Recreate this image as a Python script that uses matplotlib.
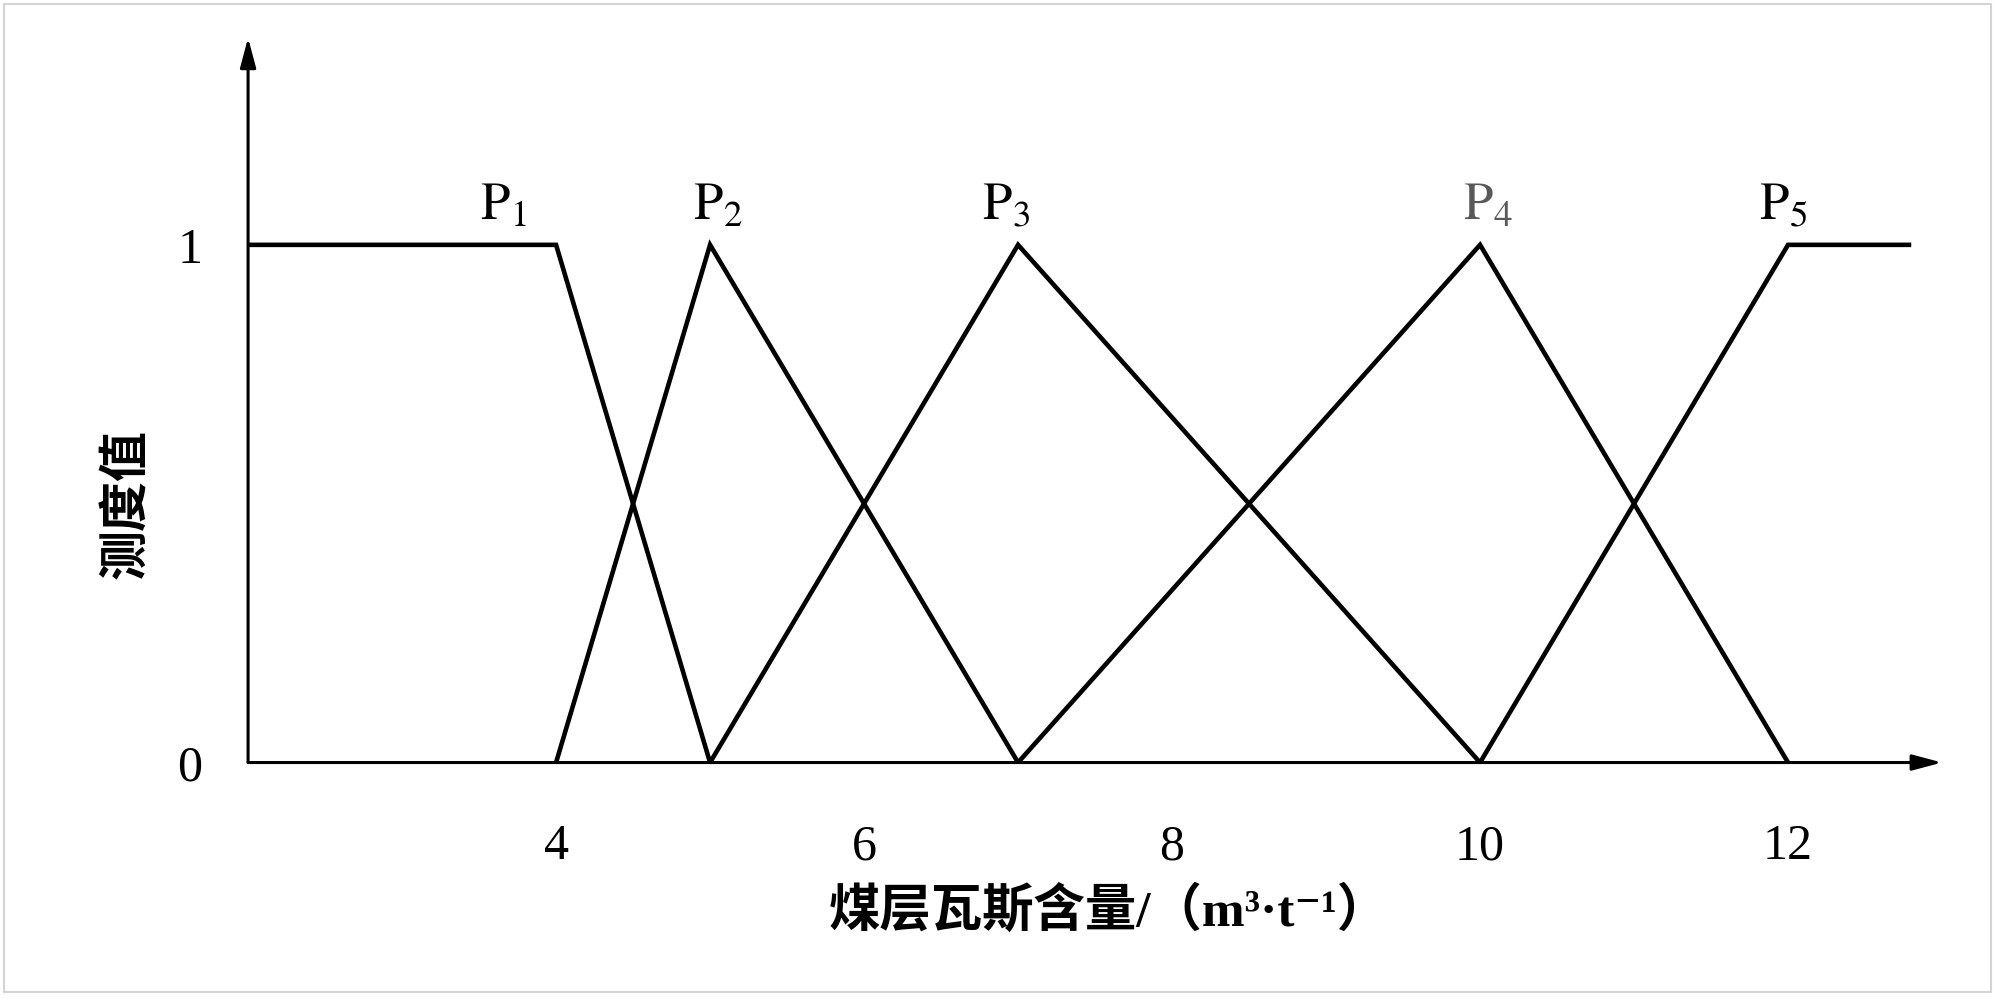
import matplotlib
matplotlib.use("Agg")
import matplotlib.pyplot as plt
from matplotlib.patches import Rectangle

# ---- data ----
p1_x = [2, 4, 5]
p1_y = [1, 1, 0]
p2_x = [4, 5, 7]
p2_y = [0, 1, 0]
p3_x = [5, 7, 10]
p3_y = [0, 1, 0]
p4_x = [7, 10, 12]
p4_y = [0, 1, 0]
p5_x = [10, 12, 12.8]
p5_y = [0, 1, 1]
series_labels = [r"$\mathrm{P}_1$", r"$\mathrm{P}_2$", r"$\mathrm{P}_3$", r"$\mathrm{P}_4$", r"$\mathrm{P}_5$"]
label_x = [3.66, 5.05, 6.92, 10.05, 11.97]
label_y = 1.049
label_colors = ["black", "black", "black", "#595959", "black"]
xticks = [4, 6, 8, 10, 12]
yticks = [0, 1]
xlabel = "煤层瓦斯含量/（m³·t⁻¹）"
ylabel = "测度值"

plt.rcParams["mathtext.fontset"] = "stix"

fig = plt.figure(figsize=(19.99, 9.99), dpi=100)
ax = fig.add_axes([0.1241, 0.2367, 0.8474, 0.7255])
ax.set_xlim(2, 13)
ax.set_ylim(0, 1.4)
for s in ax.spines.values():
    s.set_visible(False)

lw = 3.3
for xs, ys in [(p1_x, p1_y), (p2_x, p2_y), (p3_x, p3_y), (p4_x, p4_y), (p5_x, p5_y)]:
    ax.plot(xs, ys, color="black", lw=lw, solid_joinstyle="miter", solid_capstyle="butt", clip_on=False)

# axes with arrows
arrow_kw = dict(arrowstyle="-|>,head_length=0.6,head_width=0.16", color="black", lw=2.2,
                shrinkA=0, shrinkB=0, mutation_scale=30)
ax.annotate("", xy=(13, 0), xytext=(2, 0), xycoords="data", arrowprops=arrow_kw, annotation_clip=False)
ax.annotate("", xy=(2, 1.4), xytext=(2, 0), xycoords="data", arrowprops=arrow_kw, annotation_clip=False)

for lab, lx, c in zip(series_labels, label_x, label_colors):
    ax.text(lx, label_y, lab, ha="center", va="baseline", fontsize=38, color=c)

ax.set_xticks(xticks)
ax.set_xticklabels([str(v) for v in xticks], fontsize=36, family="Liberation Serif")
ax.set_yticks(yticks)
ax.set_yticklabels([str(v) for v in yticks], fontsize=36, family="Liberation Serif")
ax.tick_params(axis="x", length=0, pad=44)
ax.tick_params(axis="y", length=0, pad=33)

ax.set_xlabel(xlabel, fontsize=37, fontweight="bold",
              family=["Liberation Serif", "Noto Sans CJK SC", "DejaVu Serif"])
ax.xaxis.set_label_coords(0.508, -0.206)
ax.xaxis.label.set_va("center")
ax.set_ylabel(ylabel, fontsize=36, fontweight="bold", family=["Noto Sans CJK SC"])
ax.yaxis.set_label_coords(-0.0714, 0.5 / 1.4)
ax.yaxis.label.set_va("center")

fig.patches.append(Rectangle((0.002, 0.007), 0.994, 0.989, transform=fig.transFigure,
                             fill=False, edgecolor="#d4d4d4", lw=1.5))

fig.savefig("out.png", dpi=100)
